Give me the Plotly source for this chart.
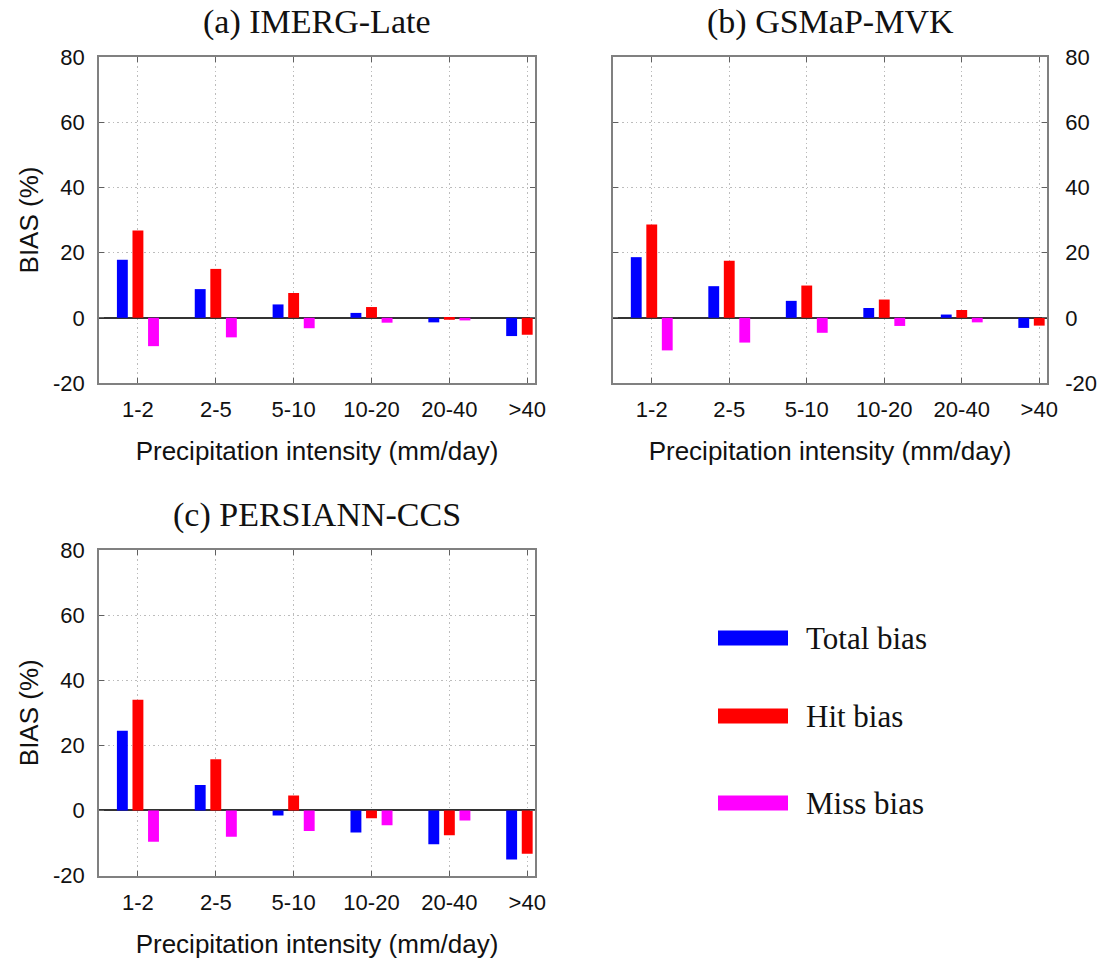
import plotly.graph_objects as go

categories = ["1-2", "2-5", "5-10", "10-20", "20-40", ">40"]
panel_titles = ["(a) IMERG-Late", "(b) GSMaP-MVK", "(c) PERSIANN-CCS"]
series_names = ["Total bias", "Hit bias", "Miss bias"]

imerg_total = [17.8, 8.8, 4.1, 1.5, -1.4, -5.6]
imerg_hit = [26.8, 15.0, 7.6, 3.3, -0.6, -5.2]
imerg_miss = [-8.7, -6.0, -3.2, -1.5, -0.8, -0.5]

gsmap_total = [18.6, 9.7, 5.2, 3.0, 1.0, -3.1]
gsmap_hit = [28.6, 17.5, 9.9, 5.6, 2.4, -2.4]
gsmap_miss = [-10.0, -7.6, -4.6, -2.5, -1.4, -0.8]

persiann_total = [24.5, 7.8, -1.6, -6.8, -10.4, -15.1]
persiann_hit = [34.0, 15.7, 4.6, -2.4, -7.6, -13.3]
persiann_miss = [-9.6, -8.1, -6.3, -4.6, -3.1, -1.9]

y_ticks = [-20, 0, 20, 40, 60, 80]
y_ticktext = ["-20", "0", "20", "40", "60", "80"]

W, H = 1100, 962
colors = ["#0000ff", "#ff0000", "#ff00ff"]
offsets = [-0.27, -0.07, 0.13]
bar_w = 0.14

panels = [
    (imerg_total, imerg_hit, imerg_miss),
    (gsmap_total, gsmap_hit, gsmap_miss),
    (persiann_total, persiann_hit, persiann_miss),
]
# pixel boxes: (left, right, top, bottom)
boxes = [(99, 535, 57, 383), (613, 1047, 57, 383), (99, 535, 550, 875.5)]

sans = "Liberation Sans, Arial"
serif = "Liberation Serif, Times New Roman"

fig = go.Figure()
xs = list(range(len(categories)))

for p, (vals, box) in enumerate(zip(panels, boxes)):
    suffix = "" if p == 0 else str(p + 1)
    for s, v in enumerate(vals):
        fig.add_trace(go.Bar(
            x=xs, y=v, name=series_names[s], width=bar_w, offset=offsets[s],
            marker=dict(color=colors[s], line=dict(width=0)),
            xaxis="x" + suffix, yaxis="y" + suffix, showlegend=False,
        ))
    l, r, t, b = box
    xdom = [l / W, r / W]
    ydom = [1 - b / H, 1 - t / H]
    axis_common = dict(showline=True, linecolor="#808080", linewidth=1.5, mirror="ticks",
                       ticks="inside", ticklen=5, tickcolor="#606060", automargin=False,
                       showgrid=True, gridcolor="#bcbcbc", griddash="1.5px,3px", gridwidth=1,
                       tickfont=dict(family=sans, size=22, color="#111111"))
    fig.layout["xaxis" + suffix] = dict(
        domain=xdom, anchor="y" + suffix, range=[-0.5, 5.1],
        tickmode="array", tickvals=xs, ticktext=categories, zeroline=False,
        ticklabelstandoff=6,
        title=dict(text="Precipitation intensity (mm/day)",
                   font=dict(family=sans, size=26, color="#111111"),
                   standoff=21),
        **axis_common,
    )
    yax = dict(
        domain=ydom, anchor="x" + suffix, range=[-20, 80],
        tickmode="array", tickvals=y_ticks, ticktext=y_ticktext, zeroline=True,
        zerolinecolor="#333333", zerolinewidth=2,
        side="right" if p == 1 else "left",
        ticklabelstandoff=8 if p != 1 else 12,
        **axis_common,
    )
    if p != 1:
        yax["title"] = dict(text="BIAS (%)",
                            font=dict(family=sans, size=26, color="#111111"),
                            standoff=7)
    fig.layout["yaxis" + suffix] = yax
    fig.add_annotation(text=panel_titles[p], xref="paper", yref="paper",
                       x=(l + r) / 2 / W, y=1 - (t - 35) / H, xanchor="center", yanchor="middle",
                       showarrow=False,
                       font=dict(family=serif, size=34, color="#111111"))

# legend drawn as swatches and labels
leg_y = [638, 716, 803]
for s in range(3):
    yc = leg_y[s]
    fig.add_shape(type="rect", xref="paper", yref="paper",
                  x0=718 / W, x1=788 / W, y0=1 - (yc + 7.5) / H, y1=1 - (yc - 7.5) / H,
                  fillcolor=colors[s], line=dict(width=0))
    fig.add_annotation(text=series_names[s], xref="paper", yref="paper",
                       x=804 / W, y=1 - yc / H, xanchor="left", yanchor="middle", showarrow=False,
                       font=dict(family=serif, size=31, color="#111111"))

fig.update_layout(width=W, height=H, margin=dict(l=0, r=0, t=0, b=0),
                  paper_bgcolor="white", plot_bgcolor="white", barmode="overlay",
                  showlegend=False)

fig.write_html("out.html")
